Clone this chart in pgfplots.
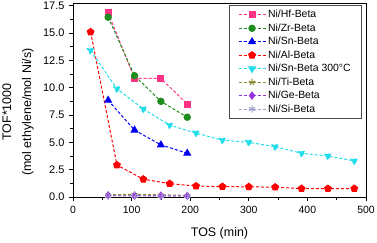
\documentclass[border=0pt]{standalone}
\usepackage{pgfplots}
\pgfplotsset{compat=1.18}
\usepackage{fontspec}
\setmainfont{Liberation Sans}
\definecolor{chf}{HTML}{FF3385}
\definecolor{czr}{HTML}{1E8C1E}
\definecolor{csn}{HTML}{0000F0}
\definecolor{cal}{HTML}{FF0000}
\definecolor{csn3}{HTML}{22DDEA}
\definecolor{cti}{HTML}{8C8C30}
\definecolor{cge}{HTML}{9933DD}
\definecolor{csi}{HTML}{A0A0D0}
\begin{document}
\begin{tikzpicture}
\begin{axis}[
  scale only axis,
  width=293bp, height=194bp,
  xmin=0, xmax=500, ymin=0, ymax=17.75,
  xtick={0,100,...,500},
  ytick={0,2.5,...,17.5},
  minor x tick num=1,
  minor y tick num=1,
  tick align=outside,
  tick pos=left,
  major tick length=4bp,
  minor tick length=2.5bp,
  axis line style={line width=1pt},
  every tick/.style={black, line width=0.8pt},
  yticklabel style={/pgf/number format/fixed,/pgf/number format/fixed zerofill,/pgf/number format/precision=1, font=\fontsize{11}{13}\selectfont, xshift=-1bp},
  xticklabel style={font=\fontsize{10.5}{12}\selectfont, yshift=-2bp},
  /pgf/number format/assume math mode=true,
  xlabel={TOS (min)},
  ylabel={TOF*1000\\(mol ethylene/mol Ni/s)},
  label style={font=\fontsize{12.5}{20}\selectfont},
  ylabel style={align=center, at={([xshift=-55bp]axis description cs:0,0.438)}, anchor=center},
  xlabel style={at={([yshift=-36bp]axis description cs:0.5,0)}, anchor=center},
  legend style={at={(289bp,192bp)}, anchor=north east, font=\fontsize{10.5}{12.5}\selectfont,
    draw=black!70, line width=0.6pt, row sep=0.4bp, inner xsep=9bp, inner ysep=3bp},
  legend cell align=left,
  legend image code/.code={\draw[#1] (0bp,0bp) -- (27bp,0bp); \draw[#1, solid] plot coordinates {(13.5bp,0bp)};},
  every axis plot/.append style={densely dashed, line width=1pt, mark options={solid}},
]
\addplot[chf, mark=square*, mark size=3pt] coordinates {(60,16.85) (105,10.85) (150,10.85) (195,8.5)};
\addlegendentry{Ni/Hf-Beta}
\addplot[czr, mark=*, mark size=3.2pt] coordinates {(60,16.45) (105,11.1) (150,8.75) (195,7.3)};
\addlegendentry{Ni/Zr-Beta}
\addplot[csn, mark=triangle*, mark size=3.8pt] coordinates {(60,8.85) (105,6.12) (150,4.77) (195,4.0)};
\addlegendentry{Ni/Sn-Beta}
\addplot[cal, mark=pentagon*, mark size=3.5pt] coordinates {(30,15.1) (75,2.92) (120,1.63) (165,1.22) (210,1.0) (255,0.95) (300,0.93) (345,0.9) (390,0.77) (435,0.77) (480,0.77)};
\addlegendentry{Ni/Al-Beta}
\addplot[csn3, mark=triangle*, mark size=3.8pt, mark options={rotate=180}] coordinates {(30,13.4) (75,9.9) (120,8.05) (165,6.57) (210,5.85) (255,5.2) (300,5.0) (345,4.6) (390,4.0) (435,3.75) (480,3.3)};
\addlegendentry{Ni/Sn-Beta 300\textdegree C\hspace{9bp}}
\addplot[cti, mark=star, mark size=3.5pt, mark options={line width=1pt}] coordinates {(60,0.2) (105,0.25) (150,0.2) (195,0.15)};
\addlegendentry{Ni/Ti-Beta}
\addplot[cge, mark=diamond*, mark size=3.5pt] coordinates {(60,0.15) (105,0.12) (150,0.12) (195,0.1)};
\addlegendentry{Ni/Ge-Beta}
\addplot[csi, mark=asterisk, mark size=3.5pt, mark options={line width=1pt}] coordinates {(60,0.1) (105,0.1) (150,0.08) (195,0.08)};
\addlegendentry{Ni/Si-Beta}
\end{axis}
\pgfresetboundingbox
\path (-73bp,-46bp) rectangle (304bp,197bp);
\end{tikzpicture}
\end{document}
